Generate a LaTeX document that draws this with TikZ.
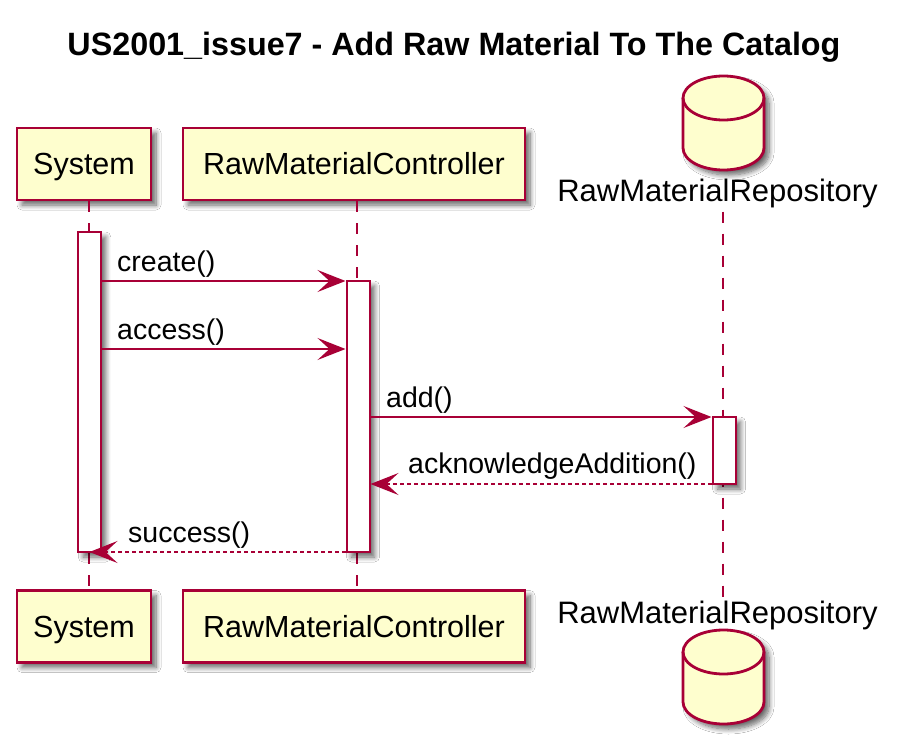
\documentclass[tikz,border=0pt]{standalone}
\usepackage{fontspec}
\setmainfont{Liberation Sans}
\usetikzlibrary{arrows.meta,shadows.blur,calc}
\definecolor{pbord}{HTML}{A80036}
\definecolor{pfill}{HTML}{FEFECE}
\tikzset{
  shad/.style={blur shadow={shadow xshift=5pt,shadow yshift=-5pt,shadow blur radius=5pt,shadow blur steps=8,shadow opacity=60}},
  partbox/.style={draw=pbord,fill=pfill,line width=2.8pt,minimum height=72pt,inner sep=0pt,
    text height=21.5pt,text depth=0pt,font=\fontsize{30.5}{36}\selectfont,shad},
  replabel/.style={font=\fontsize{31}{36}\selectfont,anchor=base,inner sep=0pt},
  actbar/.style={draw=pbord,fill=white,line width=2pt,shad,inner sep=0pt,minimum width=22.5pt},
  life/.style={draw=pbord,line width=2pt,dash pattern=on 11pt off 11pt},
  msg/.style={draw=pbord,line width=2pt,-{Stealth[length=28pt,width=22pt,inset=12pt]}},
  ret/.style={msg,dash pattern=on 4pt off 3pt},
  msglabel/.style={font=\fontsize{28.5}{34}\selectfont,anchor=base west,inner sep=0pt},
  dbshape/.style={draw=pbord,fill=pfill,line width=2.8pt,shad},
  titletext/.style={font=\bfseries\fontsize{32.3}{38}\selectfont,anchor=base,inner sep=0pt},
}
\begin{document}
\begin{tikzpicture}[x=1pt,y=-1pt]
\useasboundingbox[fill=white] (0,0) rectangle (903,749);

% title
\node[titletext] (title) at (454,56) {US2001\_issue7 - Add Raw Material To The Catalog};

% participants top
\node[partbox,minimum width=134pt] (sysT) at (84,164) {System};
\node[partbox,minimum width=342pt] (ctlT) at (354,164) {RawMaterialController};
\path[dbshape] (683,98) -- (683,148) arc[start angle=180,end angle=360,x radius=40.5pt,y radius=22pt]
  -- (764,98) arc[start angle=0,end angle=180,x radius=40.5pt,y radius=22pt] -- cycle;
\draw[draw=pbord,line width=2.8pt] (683,98) arc[start angle=180,end angle=360,x radius=40.5pt,y radius=22pt];
\node[replabel] (repT) at (717.5,201) {RawMaterialRepository};

% participants bottom
\node[partbox,minimum width=134pt] (sysB) at (84,626.5) {System};
\node[partbox,minimum width=342pt] (ctlB) at (354,626.5) {RawMaterialController};
\node[replabel] (repB) at (717.5,623) {RawMaterialRepository};
\path[dbshape] (683,652) -- (683,702) arc[start angle=180,end angle=360,x radius=40.5pt,y radius=22pt]
  -- (764,652) arc[start angle=0,end angle=180,x radius=40.5pt,y radius=22pt] -- cycle;
\draw[draw=pbord,line width=2.8pt] (683,652) arc[start angle=180,end angle=360,x radius=40.5pt,y radius=22pt];

% lifelines
\coordinate (sysL) at (89,0);
\coordinate (ctlL) at (357,0);
\coordinate (repL) at (723,0);
\draw[life] (sysT.south -| sysL) -- (sysB.north -| sysL);
\draw[life] (ctlT.south -| ctlL) -- (ctlB.north -| ctlL);
\draw[life] ($(repT.south -| repL)+(0,4)$) -- (repB.north -| repL);

% activation bars
\node[actbar,minimum height=320pt] (sysAct) at (89.5,392) {};
\node[actbar,minimum height=271pt,minimum width=23pt] (ctlAct) at (358,416.5) {};
\node[actbar,minimum height=67pt,minimum width=23pt] (repAct) at (724,450.5) {};

% message levels
\coordinate (m1) at (0,281);
\coordinate (m2) at (0,349);
\coordinate (m3) at (0,417);
\coordinate (m4) at (0,484);
\coordinate (m5) at (0,552);

\draw[msg] (sysAct.east |- m1) -- (ctlAct.west |- m1);
\node[msglabel] (l1) at (117,271) {create()};
\draw[msg] (sysAct.east |- m2) -- (ctlAct.west |- m2);
\node[msglabel] (l2) at (117,339) {access()};
\draw[msg] (ctlAct.east |- m3) -- (repAct.west |- m3);
\node[msglabel] (l3) at (386,407) {add()};
\draw[ret] (repAct.west |- m4) -- (ctlAct.east |- m4);
\node[msglabel] (l4) at (408,473) {acknowledgeAddition()};
\draw[ret] (ctlAct.west |- m5) -- (sysAct.center |- m5);
\node[msglabel] (l5) at (128,542) {success()};
\end{tikzpicture}
\end{document}
